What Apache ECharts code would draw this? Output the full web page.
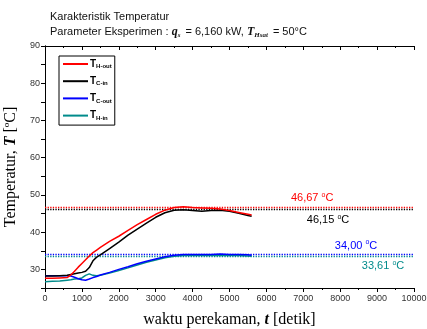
<!DOCTYPE html>
<html>
<head>
<meta charset="utf-8">
<title>Karakteristik Temperatur</title>
<script src="https://cdn.jsdelivr.net/npm/echarts@6/dist/echarts.min.js"></script>
<style>
    html, body { margin: 0; padding: 0; background: #fff; }
    #temp_echart { width: 427px; height: 329px; }
</style>
</head>
<body>
<div id="temp_echart"></div>
<script>
// waktu perekaman (detik)
var waktu = [0, 200, 400, 600, 700, 800, 900, 1000, 1100, 1200, 1300, 1400, 1500, 1750, 2000, 2250, 2500, 2750, 3000, 3250, 3500, 3750, 4000, 4250, 4500, 4750, 5000, 5250, 5500, 5600];
// suhu tiap sensor
var tHOut = [27.6, 27.6, 27.7, 27.8, 28.5, 29.5, 30.6, 31.6, 32.6, 33.6, 34.5, 35.2, 35.9, 37.5, 38.9, 40.5, 42.0, 43.4, 44.8, 45.9, 46.6, 46.8, 46.6, 46.5, 46.4, 46.2, 45.8, 45.3, 44.8, 44.6];
var tCIn = [28.2, 28.2, 28.3, 28.4, 28.6, 28.8, 29.0, 29.2, 29.5, 30.5, 32.3, 33.3, 33.9, 35.6, 37.3, 39.2, 40.8, 42.4, 44.0, 45.2, 45.9, 46.0, 45.8, 45.6, 45.8, 45.9, 45.6, 45.1, 44.5, 44.3];
var tCOut = [28.3, 28.3, 28.3, 28.3, 28.2, 27.9, 27.5, 27.2, 27.1, 27.4, 27.8, 28.1, 28.5, 29.2, 30.0, 30.7, 31.5, 32.2, 32.8, 33.4, 33.8, 34.0, 34.0, 34.0, 34.0, 34.1, 34.0, 34.0, 33.9, 33.8];
var tHIn = [26.7, 26.8, 26.9, 27.1, 27.2, 27.4, 27.5, 27.7, 28.4, 28.8, 28.4, 28.3, 28.4, 29.0, 29.7, 30.4, 31.2, 31.9, 32.5, 33.1, 33.5, 33.7, 33.7, 33.7, 33.7, 33.8, 33.7, 33.7, 33.6, 33.5];
// nilai rata-rata (garis putus)
var seriesNames = ['H-out', 'C-in', 'C-out', 'H-in'];
var rataRata = [46.67, 46.15, 34.00, 33.61];
var rataLabel = ['46,67', '46,15', '34,00', '33,61'];

var warna = ['#ff0000', '#000000', '#0000ff', '#008b8b'];
var sansFont = 'Liberation Sans, Arial, sans-serif';
var serifFont = 'Liberation Serif, Times New Roman, serif';

function pairs(y) {
    return waktu.map(function (t, i) { return [t, y[i]]; });
}

// posisi label nilai rata-rata (dalam satuan data)
var labelPos = [
    { x: 7240, dy: -9 },
    { x: 7670, dy: 11 },
    { x: 8430, dy: -9 },
    { x: 9160, dy: 10 }
];

var allData = [tHOut, tCIn, tCOut, tHIn];
var series = allData.map(function (d, i) {
    return {
        name: seriesNames[i],
        type: 'line',
        symbol: 'none',
        data: pairs(d),
        lineStyle: { color: warna[i], width: 1.5 },
        itemStyle: { color: warna[i] },
        z: 10 - i,
        markLine: {
            silent: true,
            symbol: 'none',
            label: { show: false },
            lineStyle: { color: warna[i], type: 'dotted', width: 1.3 },
            data: [{ yAxis: rataRata[i] }]
        },
        markPoint: {
            silent: true,
            symbol: 'circle',
            symbolSize: 0,
            data: [{ coord: [labelPos[i].x, rataRata[i]] }],
            label: {
                show: true,
                position: 'inside',
                offset: [0, labelPos[i].dy],
                formatter: '{v|' + rataLabel[i] + ' }{d|o}{v|C}',
                rich: {
                    v: { fontFamily: sansFont, fontSize: 11, color: warna[i], lineHeight: 13 },
                    d: { fontFamily: sansFont, fontSize: 7, color: warna[i], verticalAlign: 'top', lineHeight: 13, padding: [0, 0, 4, 0] }
                }
            }
        }
    };
});

var chart = echarts.init(document.getElementById('temp_echart'), null, { renderer: 'canvas' });

chart.setOption({
    animation: false,
    backgroundColor: '#fff',
    title: {
        left: 45,
        top: 6,
        itemGap: 3,
        text: 'Karakteristik Temperatur',
        textStyle: { fontFamily: sansFont, fontSize: 11, fontWeight: 'normal', color: '#111' },
        subtext: '{a|Parameter Eksperimen : }{b|q}{s|s}{a| = 6,160 kW, }{b|T}{s|Hsat}{a| = 50°C}',
        subtextStyle: {
            rich: {
                a: { fontFamily: sansFont, fontSize: 11, color: '#111', lineHeight: 14 },
                b: { fontFamily: serifFont, fontSize: 12, fontWeight: 'bold', fontStyle: 'italic', color: '#111', lineHeight: 14 },
                s: { fontFamily: serifFont, fontSize: 7, fontWeight: 'bold', fontStyle: 'italic', color: '#111', verticalAlign: 'bottom', lineHeight: 14, padding: [4, 2, 0, 0] }
            }
        }
    },
    legend: {
        orient: 'vertical',
        left: 59,
        top: 56,
        padding: [3, 3, 4, 3],
        itemWidth: 25,
        itemHeight: 12,
        itemGap: 6.7,
        borderColor: '#000',
        borderWidth: 1,
        data: seriesNames,
        itemStyle: { opacity: 0 },
        formatter: function (name) { return '{t|T}{s|' + name + '}'; },
        textStyle: {
            padding: [0, 0, 0, -3],
            rich: {
                t: { fontFamily: sansFont, fontSize: 10, fontWeight: 'bold', color: '#000' },
                s: { fontFamily: sansFont, fontSize: 6, fontWeight: 'bold', color: '#000', verticalAlign: 'bottom', padding: [5, 0, 0, 0] }
            }
        }
    },
    grid: { left: 45, right: 13, top: 46, bottom: 41, outerBoundsMode: 'none' },
    xAxis: [{
        type: 'value',
        min: 0,
        max: 10000,
        interval: 1000,
        name: '{a|waktu perekaman, }{b|t}{a| [detik]}',
        nameLocation: 'middle',
        nameGap: 24,
        nameTextStyle: {
            rich: {
                a: { fontFamily: serifFont, fontSize: 16, color: '#000' },
                b: { fontFamily: serifFont, fontSize: 16, fontWeight: 'bold', fontStyle: 'italic', color: '#000' }
            }
        },
        axisLine: { lineStyle: { color: '#000', width: 1 } },
        axisTick: { inside: false, length: 4, lineStyle: { color: '#000' } },
        minorTick: { show: true, splitNumber: 2, length: 2, lineStyle: { color: '#000' } },
        axisLabel: {
            fontFamily: sansFont, fontSize: 9, color: '#333', margin: 6,
            formatter: function (v) { return String(v); }
        },
        splitLine: { show: false }
    }, {
        type: 'value',
        position: 'top',
        min: 0,
        max: 10000,
        interval: 1000,
        axisLine: { lineStyle: { color: '#000', width: 1 } },
        axisTick: { inside: true, length: 4, lineStyle: { color: '#000' } },
        minorTick: { show: true, splitNumber: 2, length: 2, lineStyle: { color: '#000' } },
        axisLabel: { show: false },
        splitLine: { show: false }
    }],
    yAxis: [{
        type: 'value',
        min: 25,
        max: 90,
        interval: 5,
        name: '{a|Temperatur, }{b|T}{a| [}{d|o}{a|C]}',
        nameLocation: 'middle',
        nameGap: 22,
        nameTextStyle: {
            rich: {
                a: { fontFamily: serifFont, fontSize: 16, color: '#000', lineHeight: 18 },
                b: { fontFamily: serifFont, fontSize: 16, fontWeight: 'bold', fontStyle: 'italic', color: '#000', lineHeight: 18 },
                d: { fontFamily: serifFont, fontSize: 9, color: '#000', verticalAlign: 'top', lineHeight: 18, padding: [0, 0, 6, 0] }
            }
        },
        axisLine: { show: true, lineStyle: { color: '#000', width: 1 } },
        axisTick: { show: true, inside: false, length: 4, lineStyle: { color: '#000' } },
        axisLabel: {
            fontFamily: sansFont, fontSize: 9, color: '#333', margin: 5,
            formatter: function (v) { return v % 10 === 0 ? String(v) : ''; }
        },
        splitLine: { show: false }
    }, {
        type: 'value',
        position: 'right',
        min: 25,
        max: 90,
        interval: 5,
        axisLine: { show: true, lineStyle: { color: '#000', width: 1 } },
        axisTick: { show: true, inside: true, length: 4, lineStyle: { color: '#000' } },
        axisLabel: { show: false },
        splitLine: { show: false }
    }],
    series: series
});
</script>
</body>
</html>
